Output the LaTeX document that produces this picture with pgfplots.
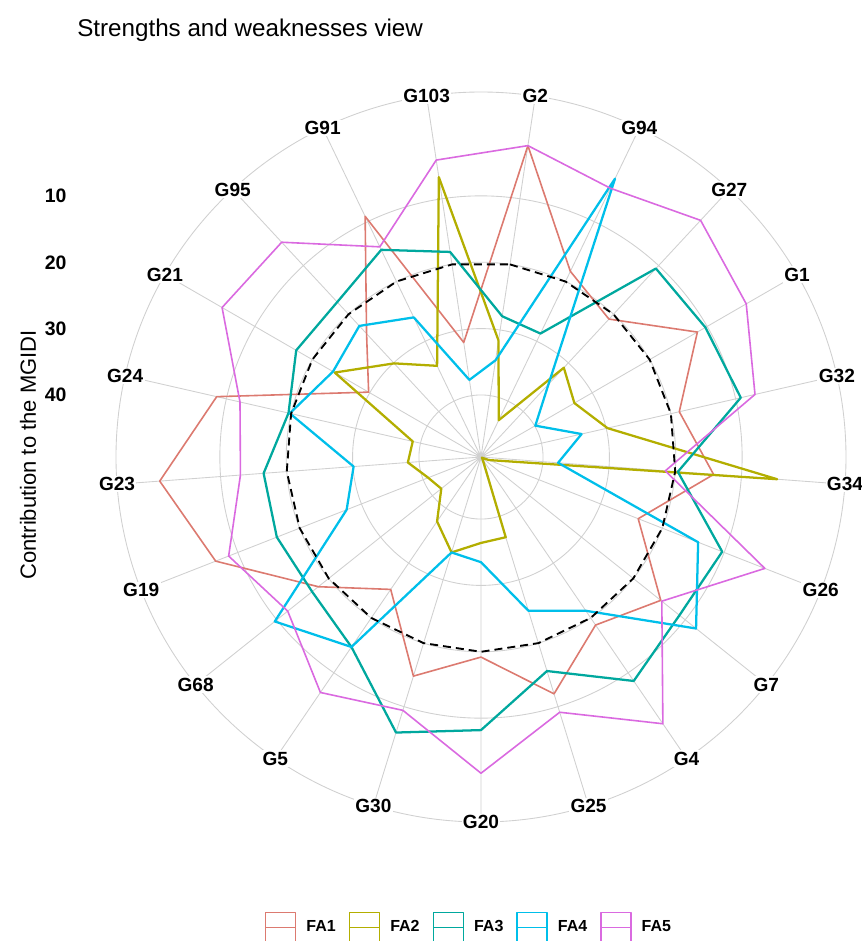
\documentclass[border=0pt]{standalone}
\usepackage{fontspec}
\setmainfont{Liberation Sans}
\usepackage{pgfplots}
\usepackage{pgfplotstable}
\usepgfplotslibrary{polar}
\pgfplotsset{compat=1.18}

\definecolor{faA}{HTML}{DC7A70}
\definecolor{faB}{HTML}{B3AE00}
\definecolor{faC}{HTML}{00A89E}
\definecolor{faD}{HTML}{00BFEA}
\definecolor{faE}{HTML}{DA6AE0}
\definecolor{gridgray}{HTML}{D0D0D0}

% contribution of each factor to the MGIDI (%), one row per genotype,
% genotypes placed clockwise from G2; last row closes the polygons
\pgfplotstableread{
ang     FA1   FA2   FA3   FA4   FA5   ref
81.43   1.9   31.6  27.9  34.6  1.9   20
64.29   18.3  43.2  28.7  2.8   4.4   20
47.14   21.0  31.0  10.6  34.4  0.7   20
30.00   11.7  33.1  10.3  39.9  3.2   20
12.86   18.7  29.8  9.2   33.8  7.0   20
355.71  14.2  4.6   19.6  37.7  21.5  20
338.57  23.9  48.1  10.3  14.2  3.4   20
321.43  14.7  49.2  11.1  7.9   14.5  20
304.29  18.7  48.9  8.5   21.3  0.7   20
287.14  12.0  36.7  15.6  25.1  9.1   20
270.00  19.2  36.4  8.2   33.5  1.7   20
252.86  14.8  34.3  5.9   34.3  9.4   20
235.71  25.2  37.6  14.7  14.7  6.4   20
218.57  18.0  41.7  16.8  9.6   12.1  20
201.43  6.4   40.8  16.3  27.6  8.5   20
184.29  0.8   38.3  16.5  30.1  13.0  20
167.14  8.5   38.8  19.6  19.8  12.1  20
150.00  29.8  23.9  17.2  23.6  4.3   20
132.86  24.0  30.1  17.5  22.4  5.2   20
115.71  9.1   34.1  14.7  26.0  14.2  20
98.57   31.9  6.7   18.1  37.6  4.1   20
81.43   1.9   31.6  27.9  34.6  1.9   20
}\scores

\begin{document}
\begin{tikzpicture}
% fixed page: 862 x 941 px at 0.75 pt per px, plot centre at (481,457) px
\useasboundingbox (-360.75pt,-363pt) rectangle (285.75pt,342.75pt);

\begin{polaraxis}[
  at={(0pt,0pt)}, anchor=origin,
  width=547.5pt, height=547.5pt, scale only axis,
  xmin=0, xmax=360, ymin=0, ymax=55,
  clip=false,
  xtick={81.43,64.29,47.14,30,12.86,355.71,338.57,321.43,304.29,287.14,270,
         252.86,235.71,218.57,201.43,184.29,167.14,150,132.86,115.71,98.57},
  xticklabels={G2,G94,G27,G1,G32,G34,G26,G7,G4,G25,G20,
               G30,G5,G68,G19,G23,G24,G21,G95,G91,G103},
  xticklabel style={anchor=center, font=\bfseries\fontsize{14.3}{16}\selectfont,
                    fill=white, inner sep=1pt},
  ytick={9.35,19.35,29.35,39.35},
  yticklabels={},
  major tick length=0pt,
  grid=major,
  major grid style={draw=gridgray, line width=0.65pt},
  axis line style={draw=gridgray, line width=0.65pt},
  y axis line style={draw=none},
  legend columns=5,
  legend entries={FA1,FA2,FA3,FA4,FA5},
  legend image code/.code={
    \draw[#1, line width=1.1pt, fill=white] (0pt,-11.25pt) rectangle (22.5pt,11.25pt);
    \draw[#1, line width=1.1pt] (0pt,0pt) -- (22.5pt,0pt);
  },
  legend style={
    at={(axis cs:268.42,70.89)}, anchor=center,
    draw=none, fill=none, inner sep=0pt, outer sep=0pt,
    nodes={inner sep=0pt},
    font=\bfseries\fontsize{12}{14}\selectfont,
    /tikz/every odd column/.append style={column sep=7.5pt},
    /tikz/every even column/.append style={column sep=9.75pt},
  },
]
\addplot[faA, line width=1.2pt, line join=round] table[x=ang, y expr={49.35-\thisrow{FA1}}] {\scores};
\addplot[faB, line width=1.7pt, line join=round] table[x=ang, y expr={49.35-\thisrow{FA2}}] {\scores};
\addplot[faC, line width=1.7pt, line join=round] table[x=ang, y expr={49.35-\thisrow{FA3}}] {\scores};
\addplot[faD, line width=1.7pt, line join=round] table[x=ang, y expr={49.35-\thisrow{FA4}}] {\scores};
\addplot[faE, line width=1.2pt, line join=round] table[x=ang, y expr={49.35-\thisrow{FA5}}] {\scores};
% expected contribution when all five factors weigh the same
\addplot[black, line width=1.4pt, dash pattern=on 6pt off 3.75pt, forget plot]
  table[x=ang, y expr={49.35-\thisrow{ref}}] {\scores};
\end{polaraxis}

% title
\node[anchor=base west, inner sep=0pt, font=\fontsize{18.15}{21}\selectfont]
  at (-303pt,315.4pt) {Strengths and weaknesses view};

% radial scale (reversed: small contributions lie outside)
\begin{scope}[every node/.style={anchor=east, inner sep=0pt,
              font=\bfseries\fontsize{14.6}{16}\selectfont}]
\node at (-310.7pt,195.8pt) {10};
\node at (-310.7pt,146.0pt) {20};
\node at (-310.7pt,96.3pt) {30};
\node at (-310.7pt,46.5pt) {40};
\end{scope}
\node[rotate=90, inner sep=0pt, font=\fontsize{16.5}{19}\selectfont]
  at (-339.75pt,1.5pt) {Contribution to the MGIDI};
\end{tikzpicture}
\end{document}
